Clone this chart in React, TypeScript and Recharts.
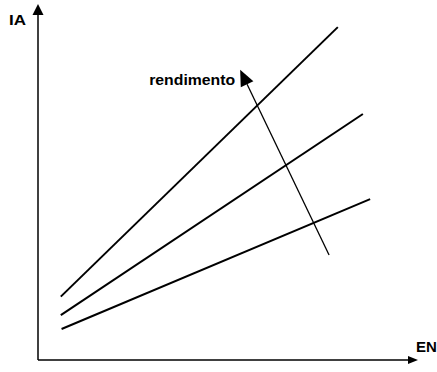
import React from 'react';
import {LineChart, Line, XAxis, YAxis, ReferenceLine} from 'recharts';

// EN on x, IA on y, arbitrary units 0..100
const rendimentoAlto = [{x: 6, y: 17.8}, {x: 78.9, y: 93.5}];
const rendimentoMedio = [{x: 6, y: 12.6}, {x: 85.5, y: 69.1}];
const rendimentoBasso = [{x: 6.2, y: 8.7}, {x: 87.4, y: 45.2}];

const asseY = [{x: 0, y: 0}, {x: 0, y: 100}];
const asseX = [{x: 0, y: 0}, {x: 100, y: 0}];
const frecciaRendimento = [{x: 76.6, y: 29.5}, {x: 53.2, y: 81.5}];

const etichette = {y: 'IA', x: 'EN', freccia: 'rendimento'};

const font = '"Liberation Sans", Arial, sans-serif';

type ArrowOpts = {
    len: number;
    half: number;
    sw: number;
    text: string;
    dx: number;
    dy: number;
    size: number;
    anchor: 'start' | 'end';
    textLength?: number;
};

const arrow = (o: ArrowOpts) => (p: any) => {
    const {x1, y1, x2, y2} = p;
    const d = Math.hypot(x2 - x1, y2 - y1) || 1;
    const ux = (x2 - x1) / d;
    const uy = (y2 - y1) / d;
    const bx = x2 - ux * o.len;
    const by = y2 - uy * o.len;
    const pts = [
        [x2, y2],
        [bx - uy * o.half, by + ux * o.half],
        [bx + uy * o.half, by - ux * o.half],
    ].map((q) => q.join(',')).join(' ');
    return (
        <g>
            <line x1={x1} y1={y1} x2={bx} y2={by} stroke="#000" strokeWidth={o.sw}/>
            <polygon points={pts} fill="#000"/>
            <text x={x2 + o.dx} y={y2 + o.dy} textAnchor={o.anchor} fontFamily={font}
                  fontWeight="bold" fontSize={o.size} fill="#000"
                  textLength={o.textLength} lengthAdjust={o.textLength ? 'spacingAndGlyphs' : undefined}>
                {o.text}
            </text>
        </g>
    );
};

const App = () => {
    return (
        <div style={{position: 'absolute', left: 0, top: 0, background: '#fff'}}>
            <LineChart width={437} height={372} margin={{top: 4, right: 19, bottom: 12, left: 38}}>
                <XAxis type="number" dataKey="x" domain={[0, 100]} hide/>
                <YAxis type="number" dataKey="y" domain={[0, 100]} hide/>
                <ReferenceLine segment={asseY} ifOverflow="visible"
                               shape={arrow({len: 11, half: 5.5, sw: 1.5, text: etichette.y, dx: -12, dy: 21, size: 15, anchor: 'end', textLength: 17})}/>
                <ReferenceLine segment={asseX} ifOverflow="visible"
                               shape={arrow({len: 10, half: 4, sw: 1.5, text: etichette.x, dx: -2, dy: -8, size: 15, anchor: 'start'})}/>
                <Line data={rendimentoAlto} dataKey="y" stroke="#000" strokeWidth={2} dot={false} isAnimationActive={false}/>
                <Line data={rendimentoMedio} dataKey="y" stroke="#000" strokeWidth={2} dot={false} isAnimationActive={false}/>
                <Line data={rendimentoBasso} dataKey="y" stroke="#000" strokeWidth={2} dot={false} isAnimationActive={false}/>
                <ReferenceLine segment={frecciaRendimento} ifOverflow="visible"
                               shape={arrow({len: 16, half: 7, sw: 1.3, text: etichette.freccia, dx: -5, dy: 15, size: 15.5, anchor: 'end', textLength: 86})}/>
            </LineChart>
        </div>
    );
};

export default App;
